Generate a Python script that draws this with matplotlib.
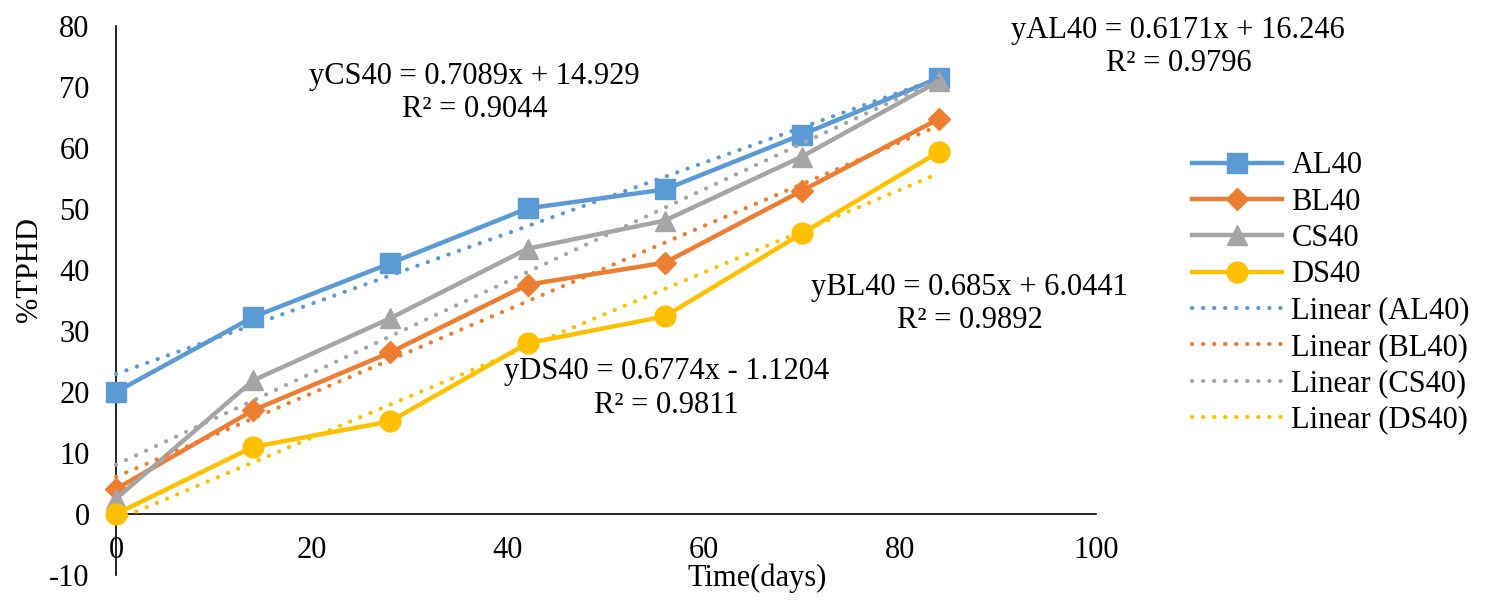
import numpy as np
import matplotlib
matplotlib.use("Agg")
import matplotlib.pyplot as plt

plt.rcParams['font.family'] = ['Liberation Serif', 'DejaVu Serif']
plt.rcParams['axes.unicode_minus'] = False

days = [0, 14, 28, 42, 56, 70, 84]
AL40 = [20.0, 32.3, 41.1, 50.1, 53.2, 62.2, 71.5]
BL40 = [4.1, 17.0, 26.5, 37.6, 41.2, 53.0, 64.8]
CS40 = [2.5, 21.9, 32.1, 43.5, 48.1, 58.6, 71.0]
DS40 = [0.0, 11.0, 15.2, 28.0, 32.4, 46.0, 59.4]

series_names = ["AL40", "BL40", "CS40", "DS40"]
series_vals = [AL40, BL40, CS40, DS40]
colors = ["#5B9BD5", "#ED7D31", "#A5A5A5", "#FFC000"]
markers = ["s", "D", "^", "o"]
msizes = [14, 11, 14, 15]

eq_texts = [
    "yAL40 = 0.6171x + 16.246\nR² = 0.9796",
    "yBL40 = 0.685x + 6.0441\nR² = 0.9892",
    "yCS40 = 0.7089x + 14.929\nR² = 0.9044",
    "yDS40 = 0.6774x - 1.1204\nR² = 0.9811",
]
eq_pos = [(108.4, 76.6), (87.1, 34.4), (36.6, 69.0), (56.2, 20.6)]

FS = 22

fig = plt.figure(figsize=(14.88, 6.0), dpi=100)
ax = fig.add_axes([116/1488, 1-575/600, (1096-116)/1488, (575-26)/600])

x = np.array(days, dtype=float)
line_handles = []
for name, vals, c, m, ms in zip(series_names, series_vals, colors, markers, msizes):
    h, = ax.plot(x, vals, color=c, lw=3.2, marker=m, markersize=ms,
                 markerfacecolor=c, markeredgecolor=c, label=name, zorder=3,
                 clip_on=False)
    line_handles.append(h)

trend_handles = []
for name, vals, c in zip(series_names, series_vals, colors):
    k, b = np.polyfit(x, np.array(vals), 1)
    xs = np.array([x[0], x[-1]])
    h, = ax.plot(xs, k*xs + b, color=c, lw=3, linestyle=(0, (0.05, 2.6)),
                 dash_capstyle='round', label=f"Linear ({name})", zorder=4,
                 clip_on=False)
    trend_handles.append(h)

for t, (tx, ty) in zip(eq_texts, eq_pos):
    ax.text(tx, ty, t, ha='center', va='center', multialignment='center',
            fontsize=FS, clip_on=False, linespacing=1.2)

ax.set_xlim(0, 100)
ax.set_ylim(-10, 80)
ax.set_xticks([0, 20, 40, 60, 80, 100])
ax.set_yticks(range(-10, 81, 10))
ax.spines['top'].set_visible(False)
ax.spines['right'].set_visible(False)
ax.spines['bottom'].set_position(('data', 0))
for s in ['left', 'bottom']:
    ax.spines[s].set_linewidth(1.2)
ax.tick_params(axis='x', length=0, pad=16, labelsize=FS)
ax.tick_params(axis='y', length=0, pad=19, labelsize=FS)

fig.text(757/1488, 1-578/600, "Time(days)", ha='center', va='center', fontsize=FS)
fig.text(30/1488, 1-270/600, "%TPHD", ha='center', va='center', rotation=90, fontsize=FS)

leg = ax.legend(handles=line_handles + trend_handles, loc='center left',
                bbox_to_anchor=(1192/1488, 1-293/600), bbox_transform=fig.transFigure,
                frameon=False, fontsize=FS, handlelength=2.95, handletextpad=0.3,
                labelspacing=0.24, borderpad=0, borderaxespad=0)

fig.savefig("out.png", dpi=100)
